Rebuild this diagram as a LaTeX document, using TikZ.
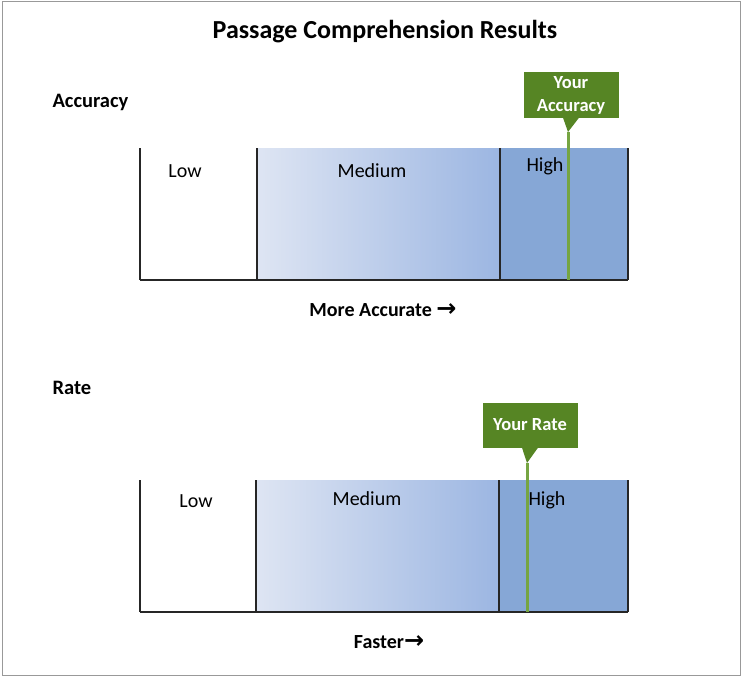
\documentclass[tikz,border=0pt]{standalone}
\usepackage{fontspec}
\setmainfont{Carlito}
\newfontfamily\arrowfont{DejaVu Sans}
\usetikzlibrary{positioning}

\definecolor{highblue}{RGB}{134,167,214}
\definecolor{medlight}{RGB}{222,229,243}
\definecolor{meddark}{RGB}{156,182,226}
\definecolor{markgreen}{RGB}{86,133,36}
\definecolor{linegreen}{RGB}{118,165,66}

\tikzset{
  divider/.style={draw=black!85, line width=1.2pt},
  zonelabel/.style={font=\fontsize{20}{24}\selectfont},
  charttitle/.style={anchor=west, font=\bfseries\fontsize{20.5}{24}\selectfont},
  axislabel/.style={font=\bfseries\fontsize{20}{24}\selectfont},
  marker/.style={fill=markgreen, text=white, minimum width=95pt, minimum height=45pt,
    inner sep=2pt, align=center, font=\bfseries\fontsize{18.5}{23}\selectfont},
  markline/.style={draw=linegreen, line width=3pt}
}
\newcommand\rarrow{{\arrowfont\bfseries\fontsize{24}{24}\selectfont →}}

\begin{document}
\begin{tikzpicture}[x=1pt, y=-1pt]
\useasboundingbox (0,0) rectangle (742,677);
\draw [gray!80, line width=1pt] (2,2) rectangle (740,675);
\node [font=\bfseries\fontsize{26}{30}\selectfont] (title) at (385,32) {Passage Comprehension Results};

% accuracy
\node [charttitle] (acctitle) at (49,102) {Accuracy};
\shade [left color=medlight, right color=meddark] (257,148) rectangle (500,280);
\fill [highblue] (500,148) rectangle (628,280);
\foreach \x in {140,257,500,628}
  \draw [divider] (\x,148) -- (\x,280);
\draw [divider] (140,280) -- (628,280);
\node [zonelabel] (acclow) at (185,171) {Low};
\node [zonelabel] (accmed) at (372,171) {Medium};
\node [zonelabel] (acchigh) at (545,166) {High};
\node [axislabel] (accaxis) at (383,310) {More Accurate \rarrow};
\node [marker] (accmark) at (571,95) {Your\\Accuracy};
\coordinate (acctip) at (568,132);
\coordinate (accend) at (568,280);
\fill [markgreen] ([xshift=-8pt]accmark.south) -- ([xshift=8pt]accmark.south) -- (acctip) -- cycle;
\draw [markline] (acctip) -- (accend);

% rate
\node [charttitle] (ratetitle) at (49,388) {Rate};
\shade [left color=medlight, right color=meddark] (256,480) rectangle (499,612);
\fill [highblue] (499,480) rectangle (628,612);
\foreach \x in {140,256,499,628}
  \draw [divider] (\x,480) -- (\x,612);
\draw [divider] (140,612) -- (628,612);
\node [zonelabel] (ratelow) at (196,501) {Low};
\node [zonelabel] (ratemed) at (367,499) {Medium};
\node [zonelabel] (ratehigh) at (547,500) {High};
\node [axislabel] (rateaxis) at (389,642) {Faster\rarrow};
\node [marker] (ratemark) at (530,425) {Your Rate};
\coordinate (ratetip) at (527,463);
\coordinate (rateend) at (527,612);
\fill [markgreen] ([xshift=-8pt]ratemark.south) -- ([xshift=8pt]ratemark.south) -- (ratetip) -- cycle;
\draw [markline] (ratetip) -- (rateend);
\end{tikzpicture}
\end{document}
